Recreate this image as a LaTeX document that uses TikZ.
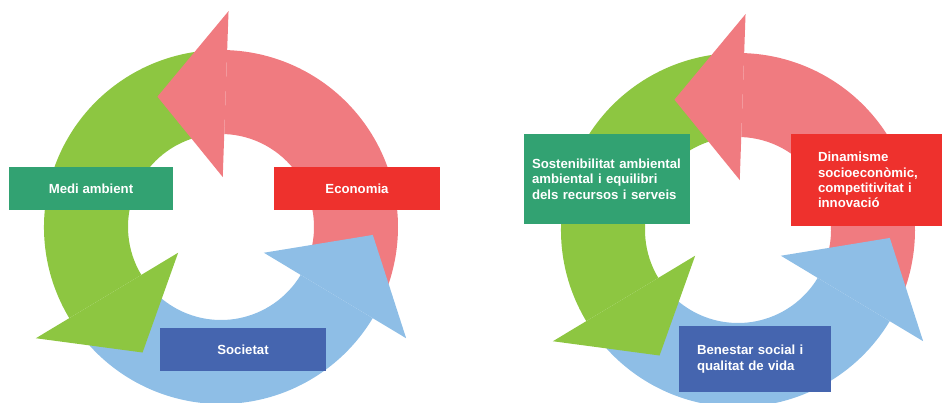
\documentclass[tikz,border=0pt]{standalone}
\usepackage{fontspec}
\setmainfont{Liberation Sans}
\usetikzlibrary{positioning, calc}

\definecolor{ring_red}{RGB}{240,123,128}
\definecolor{ring_green}{RGB}{141,198,65}
\definecolor{ring_blue}{RGB}{142,190,230}
\definecolor{box_green}{RGB}{50,162,114}
\definecolor{box_red}{RGB}{238,49,45}
\definecolor{box_blue}{RGB}{69,101,175}

\begin{document}
\begin{tikzpicture}[
  x=1pt, y=1pt,
  label_box/.style = {rectangle, text=white, inner sep=0pt, align=center,
    font=\fontsize{13.2}{15.3}\selectfont\bfseries, minimum height=43pt},
  env_box/.style = {label_box, fill=box_green},
  eco_box/.style = {label_box, fill=box_red},
  soc_box/.style = {label_box, fill=box_blue},
  ring_cycle/.pic = {
    % arrow bodies (tail angle / head base angle)
    \foreach \col/\tail/\back in {ring_red/-25/88, ring_green/95/211, ring_blue/220/329}
      \fill[\col] (\tail:93pt) arc[start angle=\tail, end angle=\back, radius=93pt]
        -- (\back:177pt) arc[start angle=\back, end angle=\tail, radius=177pt] -- cycle;
    % arrow heads (base angle / tip angle / tip radius)
    \foreach \col/\back/\tip/\r in {ring_red/88/116/145, ring_green/211/238/148, ring_blue/329/357/152}
      \fill[\col] (\back:50pt) -- (\tip:\r pt) -- (\back:216pt) -- cycle;
  }
]
\useasboundingbox (0,0) rectangle (942,403);

%--------------------------------------------------
% Left cycle
%--------------------------------------------------
\coordinate (c_left) at (221,176);
\pic at (c_left) {ring_cycle};

\node[env_box, minimum width=164pt] (medi_ambient) at (91,214.5) {Medi ambient};
\node[eco_box, minimum width=166pt] (economia) at (357,214.5) {Economia};
\node[soc_box, minimum width=166pt] (societat) at (243,53.5) {Societat};

%--------------------------------------------------
% Right cycle
%--------------------------------------------------
\coordinate (c_right) at (738,173);
\pic at (c_right) {ring_cycle};

\node[env_box, minimum width=166pt, minimum height=90pt, text width=150pt, align=left]
  (sostenibilitat) at (607,224)
  {Sostenibilitat ambiental\\ambiental i equilibri\\dels recursos i serveis};
\node[eco_box, minimum width=156pt, minimum height=92pt, text width=102pt, align=left]
  (dinamisme) at (869,223)
  {Dinamisme\\socioeconòmic,\\competitivitat i\\innovació};
\node[soc_box, minimum width=152pt, minimum height=66pt, text width=116pt, align=left]
  (benestar) at (755,44)
  {Benestar social i\\qualitat de vida};

\end{tikzpicture}
\end{document}
